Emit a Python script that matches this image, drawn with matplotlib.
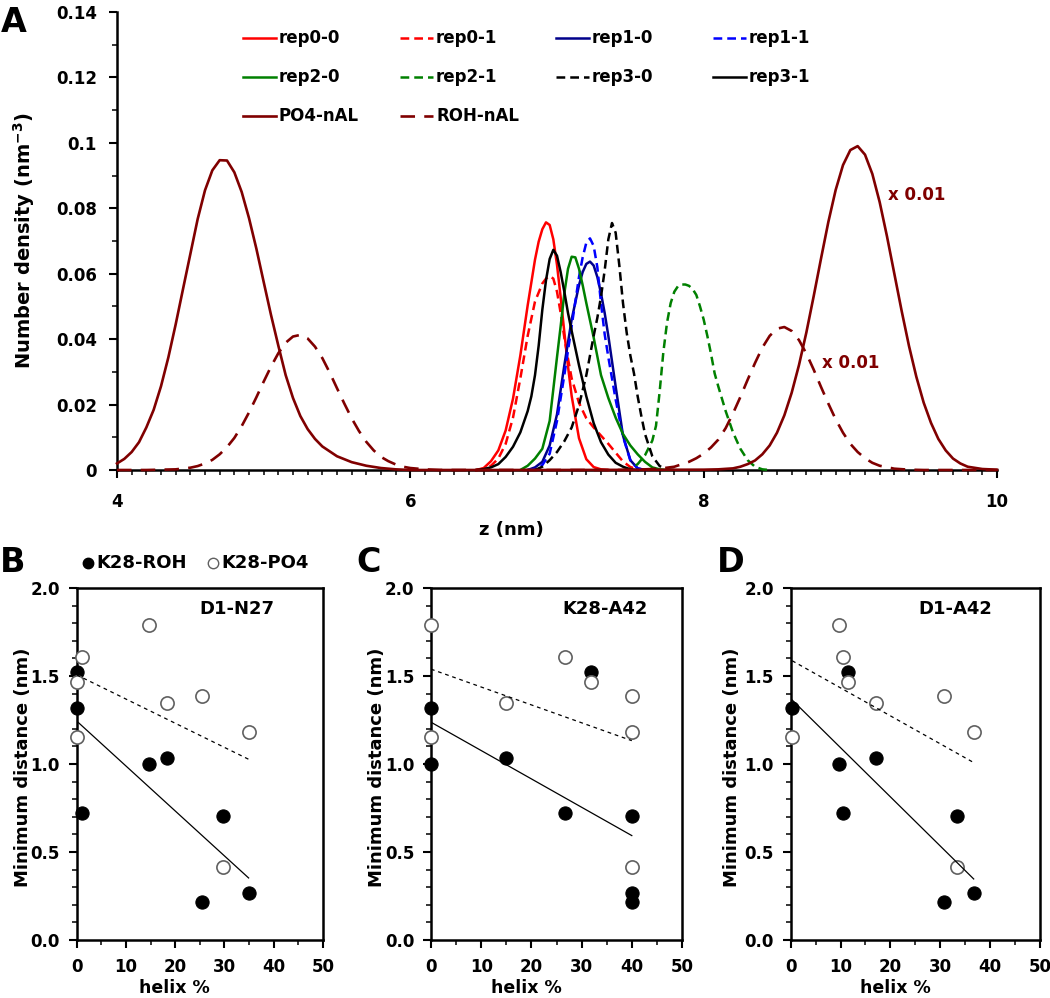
import numpy as np
import matplotlib
matplotlib.use("Agg")
import matplotlib.pyplot as plt
from matplotlib.lines import Line2D
from matplotlib.ticker import MultipleLocator, FuncFormatter

plt.rcParams['font.family'] = ['DejaVu Sans']
plt.rcParams['font.weight'] = 'bold'
plt.rcParams['axes.labelweight'] = 'bold'
plt.rcParams['mathtext.fontset'] = 'custom'
plt.rcParams['mathtext.rm'] = 'DejaVu Sans:bold'
plt.rcParams['mathtext.bf'] = 'DejaVu Sans:bold'
plt.rcParams['mathtext.it'] = 'DejaVu Sans:bold'

# ---------------- Panel A data (number density profiles) ----------------
z_rep00 = [6.45, 6.5, 6.55, 6.6, 6.65, 6.7, 6.75, 6.8, 6.85, 6.875, 6.9, 6.925, 6.95, 6.975, 7.0, 7.025,
           7.05, 7.075, 7.1, 7.15, 7.2, 7.25, 7.3, 7.35]
d_rep00 = [0.0, 0.0006, 0.0027, 0.006, 0.0121, 0.0218, 0.035, 0.0503, 0.0643, 0.0698, 0.0736, 0.0757, 0.0749, 0.0705, 0.0627, 0.0528,
           0.0421, 0.0317, 0.0226, 0.0097, 0.0033, 0.0009, 0.0002, 0.0]

z_rep01 = [6.45, 6.5, 6.55, 6.6, 6.65, 6.7, 6.75, 6.8, 6.85, 6.9, 6.925, 6.95, 6.975, 7.0, 7.025, 7.05,
           7.075, 7.1, 7.15, 7.2, 7.25, 7.3, 7.35, 7.4, 7.45, 7.5, 7.55, 7.6]
d_rep01 = [0.0, 0.0004, 0.0013, 0.0035, 0.008, 0.016, 0.028, 0.041, 0.0515, 0.057, 0.0585, 0.0593, 0.0585, 0.0545, 0.048, 0.0405,
           0.034, 0.028, 0.0205, 0.0158, 0.013, 0.0105, 0.008, 0.0053, 0.0026, 0.0009, 0.0002, 0.0]

z_rep10 = [6.8, 6.85, 6.9, 6.95, 7.0, 7.05, 7.1, 7.15, 7.175, 7.2, 7.225, 7.25, 7.275, 7.3, 7.325, 7.35,
           7.4, 7.45, 7.5, 7.55, 7.6]
d_rep10 = [0.0, 0.0008, 0.0025, 0.0075, 0.017, 0.032, 0.046, 0.0565, 0.0605, 0.063, 0.0637, 0.0625, 0.059, 0.054, 0.048, 0.041,
           0.0255, 0.0105, 0.003, 0.0005, 0.0]

z_rep11 = [6.8, 6.85, 6.9, 6.95, 7.0, 7.05, 7.1, 7.15, 7.175, 7.2, 7.225, 7.25, 7.275, 7.3, 7.325, 7.35,
           7.4, 7.45, 7.5, 7.55, 7.6]
d_rep11 = [0.0, 0.0003, 0.0015, 0.005, 0.015, 0.029, 0.044, 0.059, 0.065, 0.0695, 0.0708, 0.0685, 0.062, 0.051, 0.0415, 0.0345,
           0.0215, 0.0102, 0.003, 0.0005, 0.0]

z_rep20 = [6.75, 6.8, 6.85, 6.9, 6.95, 7.0, 7.025, 7.05, 7.075, 7.1, 7.125, 7.15, 7.175, 7.2, 7.25, 7.3,
           7.35, 7.4, 7.45, 7.5, 7.55, 7.6, 7.65, 7.7, 7.75]
d_rep20 = [0.0, 0.0013, 0.0035, 0.0065, 0.015, 0.0345, 0.044, 0.054, 0.0615, 0.0652, 0.065, 0.0615, 0.0565, 0.051, 0.0405, 0.029,
           0.022, 0.016, 0.011, 0.0075, 0.0048, 0.0025, 0.0008, 0.0002, 0.0]

z_rep21 = [7.45, 7.5, 7.55, 7.6, 7.65, 7.675, 7.7, 7.725, 7.75, 7.775, 7.8, 7.825, 7.85, 7.875, 7.9, 7.925,
           7.95, 7.975, 8.0, 8.025, 8.05, 8.075, 8.1, 8.15, 8.2, 8.25, 8.3, 8.35, 8.4, 8.45]
d_rep21 = [0.0, 0.0003, 0.0018, 0.0045, 0.009, 0.0135, 0.024, 0.036, 0.045, 0.051, 0.0545, 0.0562, 0.0567, 0.0567, 0.0563, 0.0553,
           0.0535, 0.05, 0.046, 0.041, 0.0355, 0.0295, 0.0255, 0.018, 0.0115, 0.0065, 0.003, 0.001, 0.0002, 0.0]

z_rep30 = [6.85, 6.9, 6.95, 7.0, 7.05, 7.1, 7.15, 7.2, 7.25, 7.275, 7.3, 7.325, 7.35, 7.375, 7.4, 7.425,
           7.45, 7.475, 7.5, 7.525, 7.55, 7.575, 7.6, 7.65, 7.7, 7.75, 7.8]
d_rep30 = [0.0, 0.001, 0.003, 0.0055, 0.0088, 0.013, 0.0198, 0.029, 0.041, 0.0465, 0.053, 0.061, 0.0705, 0.0755, 0.0725, 0.0625,
           0.051, 0.042, 0.035, 0.0295, 0.0225, 0.0165, 0.011, 0.0042, 0.0012, 0.0002, 0.0]

z_rep31 = [6.45, 6.5, 6.55, 6.6, 6.65, 6.7, 6.75, 6.8, 6.825, 6.85, 6.875, 6.9, 6.925, 6.95, 6.975, 7.0,
           7.025, 7.05, 7.075, 7.1, 7.15, 7.2, 7.25, 7.3, 7.35, 7.4, 7.45, 7.5, 7.55]
d_rep31 = [0.0, 0.0003, 0.0008, 0.0018, 0.004, 0.0071, 0.0115, 0.018, 0.0225, 0.029, 0.038, 0.049, 0.058, 0.0645, 0.0673, 0.0655,
           0.0605, 0.0545, 0.048, 0.0425, 0.032, 0.0225, 0.0143, 0.0085, 0.0047, 0.0022, 0.001, 0.0002, 0.0]

# lipid headgroup profiles (plotted x 0.01)
z_po4 = [4.0, 4.05, 4.1, 4.15, 4.2, 4.25, 4.3, 4.35, 4.4, 4.45, 4.5, 4.55, 4.6, 4.65, 4.7, 4.75,
         4.8, 4.85, 4.9, 4.95, 5.0, 5.05, 5.1, 5.15, 5.2, 5.25, 5.3, 5.35, 5.4, 5.5, 5.6, 5.7,
         5.8, 5.9, 6.0, 7.0, 8.0, 8.1, 8.2, 8.25, 8.3, 8.35, 8.4, 8.45, 8.5, 8.55, 8.6, 8.65,
         8.7, 8.75, 8.8, 8.85, 8.9, 8.95, 9.0, 9.05, 9.1, 9.15, 9.2, 9.25, 9.3, 9.35, 9.4, 9.45,
         9.5, 9.55, 9.6, 9.65, 9.7, 9.75, 9.8, 9.9, 10.0]
d_po4 = [0.002, 0.0034, 0.0055, 0.0085, 0.013, 0.0184, 0.0256, 0.0344, 0.0445, 0.0553, 0.066, 0.0767, 0.0855, 0.0916, 0.0947, 0.0946,
         0.091, 0.085, 0.077, 0.0677, 0.0575, 0.0474, 0.038, 0.029, 0.022, 0.0165, 0.0125, 0.0095, 0.0072, 0.0042, 0.0024, 0.0013,
         0.0006, 0.0002, 0.0, 0.0, 0.0001, 0.0002, 0.0005, 0.001, 0.0018, 0.0029, 0.0048, 0.0075, 0.0114, 0.0167, 0.0236, 0.0321,
         0.042, 0.0531, 0.0646, 0.0758, 0.0856, 0.0932, 0.0978, 0.099, 0.0964, 0.0905, 0.0819, 0.0714, 0.060, 0.0486, 0.0379, 0.0285,
         0.0206, 0.0144, 0.0095, 0.006, 0.0035, 0.002, 0.001, 0.0003, 0.0001]

z_roh = [4.0, 4.2, 4.3, 4.4, 4.5, 4.55, 4.6, 4.65, 4.7, 4.75, 4.8, 4.85, 4.9, 4.95, 5.0, 5.05,
         5.1, 5.15, 5.2, 5.25, 5.3, 5.35, 5.4, 5.45, 5.5, 5.55, 5.6, 5.65, 5.7, 5.75, 5.8, 5.85,
         5.9, 5.95, 6.0, 6.1, 6.2, 6.5, 7.0, 7.5, 7.6, 7.7, 7.8, 7.9, 7.95, 8.0, 8.05, 8.1,
         8.15, 8.2, 8.25, 8.3, 8.35, 8.4, 8.45, 8.5, 8.55, 8.6, 8.65, 8.7, 8.75, 8.8, 8.85, 8.9,
         8.95, 9.0, 9.05, 9.1, 9.15, 9.2, 9.3, 9.4, 9.5, 10.0]
d_roh = [0.0, 0.0, 0.0001, 0.0002, 0.0007, 0.0012, 0.002, 0.0031, 0.0048, 0.007, 0.0098, 0.0134, 0.0176, 0.0222, 0.027, 0.0316,
         0.0357, 0.0389, 0.0408, 0.0413, 0.0402, 0.0377, 0.0342, 0.0298, 0.025, 0.0203, 0.0158, 0.0119, 0.0086, 0.006, 0.004, 0.0027,
         0.0017, 0.001, 0.0006, 0.0002, 0.0, 0.0, 0.0, 0.0, 0.0002, 0.0004, 0.001, 0.0025, 0.0036, 0.005, 0.0069, 0.0093,
         0.0128, 0.0173, 0.0223, 0.0276, 0.0327, 0.0374, 0.041, 0.0432, 0.0437, 0.0425, 0.0397, 0.0356, 0.0307, 0.0254, 0.0203, 0.0155,
         0.0114, 0.008, 0.0055, 0.0036, 0.0022, 0.0013, 0.0004, 0.0001, 0.0, 0.0]

series_labels = ['rep0-0', 'rep0-1', 'rep1-0', 'rep1-1', 'rep2-0', 'rep2-1', 'rep3-0', 'rep3-1', 'PO4-nAL', 'ROH-nAL']

# ---------------- Panels B-D data (minimum distance vs helix %) ----------------
dist_roh = [1.318, 1.000, 0.724, 1.520, 1.036, 0.216, 0.703, 0.268]   # K28-ROH
dist_po4 = [1.152, 1.788, 1.608, 1.467, 1.345, 1.388, 0.417, 1.182]   # K28-PO4
helix_D1_N27 = [0.0, 14.7, 1.0, 0.0, 18.3, 25.5, 29.6, 34.9]
helix_K28_A42 = [0.0, 0.0, 26.6, 31.9, 14.9, 40.0, 40.0, 40.0]
helix_D1_A42 = [0.3, 9.7, 10.4, 11.5, 17.2, 30.8, 33.4, 36.7]

# ---------------- styles ----------------
DR = '#800000'
SHORT = (3.5, 2.0)
LONG = (5.5, 3.5)
styles = {
    'rep0-0': dict(color='#FF0000', ls='-'),
    'rep0-1': dict(color='#FF0000', dashes=SHORT),
    'rep1-0': dict(color='#00008B', ls='-'),
    'rep1-1': dict(color='#0000FF', dashes=SHORT),
    'rep2-0': dict(color='#008000', ls='-'),
    'rep2-1': dict(color='#008000', dashes=SHORT),
    'rep3-0': dict(color='#000000', dashes=SHORT),
    'rep3-1': dict(color='#000000', ls='-'),
    'PO4-nAL': dict(color=DR, ls='-'),
    'ROH-nAL': dict(color=DR, dashes=LONG),
}
lws = {k: 1.8 for k in styles}
lws['PO4-nAL'] = 1.9
lws['ROH-nAL'] = 1.9

W, H = 1050, 998
fig = plt.figure(figsize=(W / 100, H / 100), dpi=100)


def fax(l, t, r, b):
    return fig.add_axes([l / W, 1 - b / H, (r - l) / W, (b - t) / H])


axA = fax(117, 12, 997, 470)
axB = fax(76.7, 588, 323, 940)
axC = fax(431, 588, 682, 940)
axD = fax(790.7, 588, 1040, 940)

# ---------------- Panel A ----------------
curves = [(z_rep00, d_rep00), (z_rep01, d_rep01), (z_rep10, d_rep10), (z_rep11, d_rep11),
          (z_rep20, d_rep20), (z_rep21, d_rep21), (z_rep30, d_rep30), (z_rep31, d_rep31),
          (z_po4, d_po4), (z_roh, d_roh)]
for lab, (zz, dd) in zip(series_labels, curves):
    axA.plot(zz, dd, lw=lws[lab], label=lab, clip_on=False, zorder=3,
             solid_joinstyle='round', **styles[lab])

axA.set_xlim(4, 10)
axA.set_ylim(0, 0.14)
for s in ['top', 'right']:
    axA.spines[s].set_visible(False)
for s in ['left', 'bottom']:
    axA.spines[s].set_linewidth(1.8)
    axA.spines[s].set_zorder(2)
axA.xaxis.set_major_locator(MultipleLocator(2))
axA.xaxis.set_minor_locator(MultipleLocator(0.1))
axA.yaxis.set_major_locator(MultipleLocator(0.02))
axA.yaxis.set_minor_locator(MultipleLocator(0.01))
axA.yaxis.set_major_formatter(FuncFormatter(lambda v, p: '%g' % round(v, 3)))
axA.tick_params(which='major', direction='out', length=5.5, width=1.5, labelsize=12)
axA.tick_params(which='minor', direction='out', length=3.5, width=1.1)
axA.tick_params(axis='x', which='major', pad=11)
axA.tick_params(axis='y', which='major', pad=9)
for t in axA.get_xticklabels() + axA.get_yticklabels():
    t.set_fontweight('bold')
axA.set_ylabel(r'Number density (nm$^{\mathbf{-3}}$)', fontsize=14, fontweight='bold')
axA.yaxis.label.set_va('center')
axA.yaxis.set_label_coords(-0.1057, 0.5)
axA.set_xlabel('z (nm)', fontsize=13, fontweight='bold')
axA.xaxis.label.set_va('center')
axA.xaxis.set_label_coords(0.4477, -0.131)

axA.text(9.256, 0.084, 'x 0.01', color=DR, fontsize=12, fontweight='bold', va='center', ha='left')
axA.text(8.81, 0.0327, 'x 0.01', color=DR, fontsize=12, fontweight='bold', va='center', ha='left')

# legend laid out in rows of four, as in the original
leg_rows = [['rep0-0', 'rep0-1', 'rep1-0', 'rep1-1'],
            ['rep2-0', 'rep2-1', 'rep3-0', 'rep3-1'],
            ['PO4-nAL', 'ROH-nAL']]
col_x = [243, 400, 556, 713]
row_y = [38, 77, 116]
for r, row in enumerate(leg_rows):
    for c, lab in enumerate(row):
        x0, y0 = col_x[c], row_y[r]
        ln = Line2D([x0 / W, (x0 + 33) / W], [1 - y0 / H, 1 - y0 / H], transform=fig.transFigure,
                    lw=lws[lab], **styles[lab])
        fig.add_artist(ln)
        fig.text((x0 + 36) / W, 1 - y0 / H, lab, fontsize=12, fontweight='bold', va='center', ha='left')

# ---------------- Panels B-D ----------------
panels = [(axB, helix_D1_N27, 'D1-N27', 0.395, -0.218, 0.651),
          (axC, helix_K28_A42, 'K28-A42', 0.38, -0.215, 0.693),
          (axD, helix_D1_A42, 'D1-A42', 0.42, -0.235, 0.659)]
for ax, hx, title, xl, yl, tx in panels:
    hx_a = np.array(hx)
    ax.plot(hx, dist_roh, 'o', ms=9.5, mfc='black', mec='black', mew=0.8, clip_on=False, zorder=4)
    ax.plot(hx, dist_po4, 'o', ms=9.5, mfc='white', mec='#606060', mew=1.2, clip_on=False, zorder=5)
    # linear trend lines of each group
    k1, b1 = np.polyfit(hx_a, dist_roh, 1)
    xs = np.array([hx_a.min(), hx_a.max()])
    ax.plot(xs, k1 * xs + b1, color='black', lw=0.9, zorder=6)
    k2, b2 = np.polyfit(hx_a, dist_po4, 1)
    ax.plot(xs, k2 * xs + b2, color='black', lw=0.9, dashes=(3, 3), zorder=6)

    ax.set_xlim(0, 50)
    ax.set_ylim(0, 2.0)
    for s in ax.spines.values():
        s.set_linewidth(1.8)
    ax.xaxis.set_major_locator(MultipleLocator(10))
    ax.xaxis.set_minor_locator(MultipleLocator(5))
    ax.yaxis.set_major_locator(MultipleLocator(0.5))
    ax.yaxis.set_minor_locator(MultipleLocator(0.1))
    ax.yaxis.set_major_formatter(FuncFormatter(lambda v, p: '%.1f' % v))
    ax.tick_params(which='major', direction='out', length=6, width=1.5, labelsize=12)
    ax.tick_params(which='minor', direction='out', length=3.5, width=1.1)
    ax.tick_params(axis='x', which='major', pad=7)
    ax.tick_params(axis='y', which='major', pad=6)
    for t in ax.get_xticklabels() + ax.get_yticklabels():
        t.set_fontweight('bold')
    ax.set_xlabel('helix %', fontsize=12.5, fontweight='bold')
    ax.xaxis.label.set_va('center')
    ax.xaxis.set_label_coords(xl, -0.136)
    ax.set_ylabel('Minimum distance (nm)', fontsize=13, fontweight='bold')
    ax.yaxis.label.set_va('center')
    ax.yaxis.set_label_coords(yl, 0.49)
    ax.text(tx, 0.94, title, transform=ax.transAxes, fontsize=13, fontweight='bold',
            ha='center', va='center')

# legend for B-D (top of panel B)
fig.add_artist(Line2D([88 / W], [1 - 563 / H], marker='o', ms=7.5, mfc='black', mec='black',
                      transform=fig.transFigure))
fig.text(96 / W, 1 - 563 / H, 'K28-ROH', fontsize=13, fontweight='bold', va='center', ha='left')
fig.add_artist(Line2D([213 / W], [1 - 563 / H], marker='o', ms=7.5, mfc='white', mec='#606060', mew=1.0,
                      transform=fig.transFigure))
fig.text(221 / W, 1 - 563 / H, 'K28-PO4', fontsize=13, fontweight='bold', va='center', ha='left')

# panel letters
for letter, x, yb in [('A', 1, 32), ('B', 0, 572), ('C', 356, 572), ('D', 717, 572)]:
    fig.text(x / W, 1 - yb / H, letter, fontsize=24, fontweight='bold', ha='left', va='baseline')

fig.savefig('out.png', dpi=100)
